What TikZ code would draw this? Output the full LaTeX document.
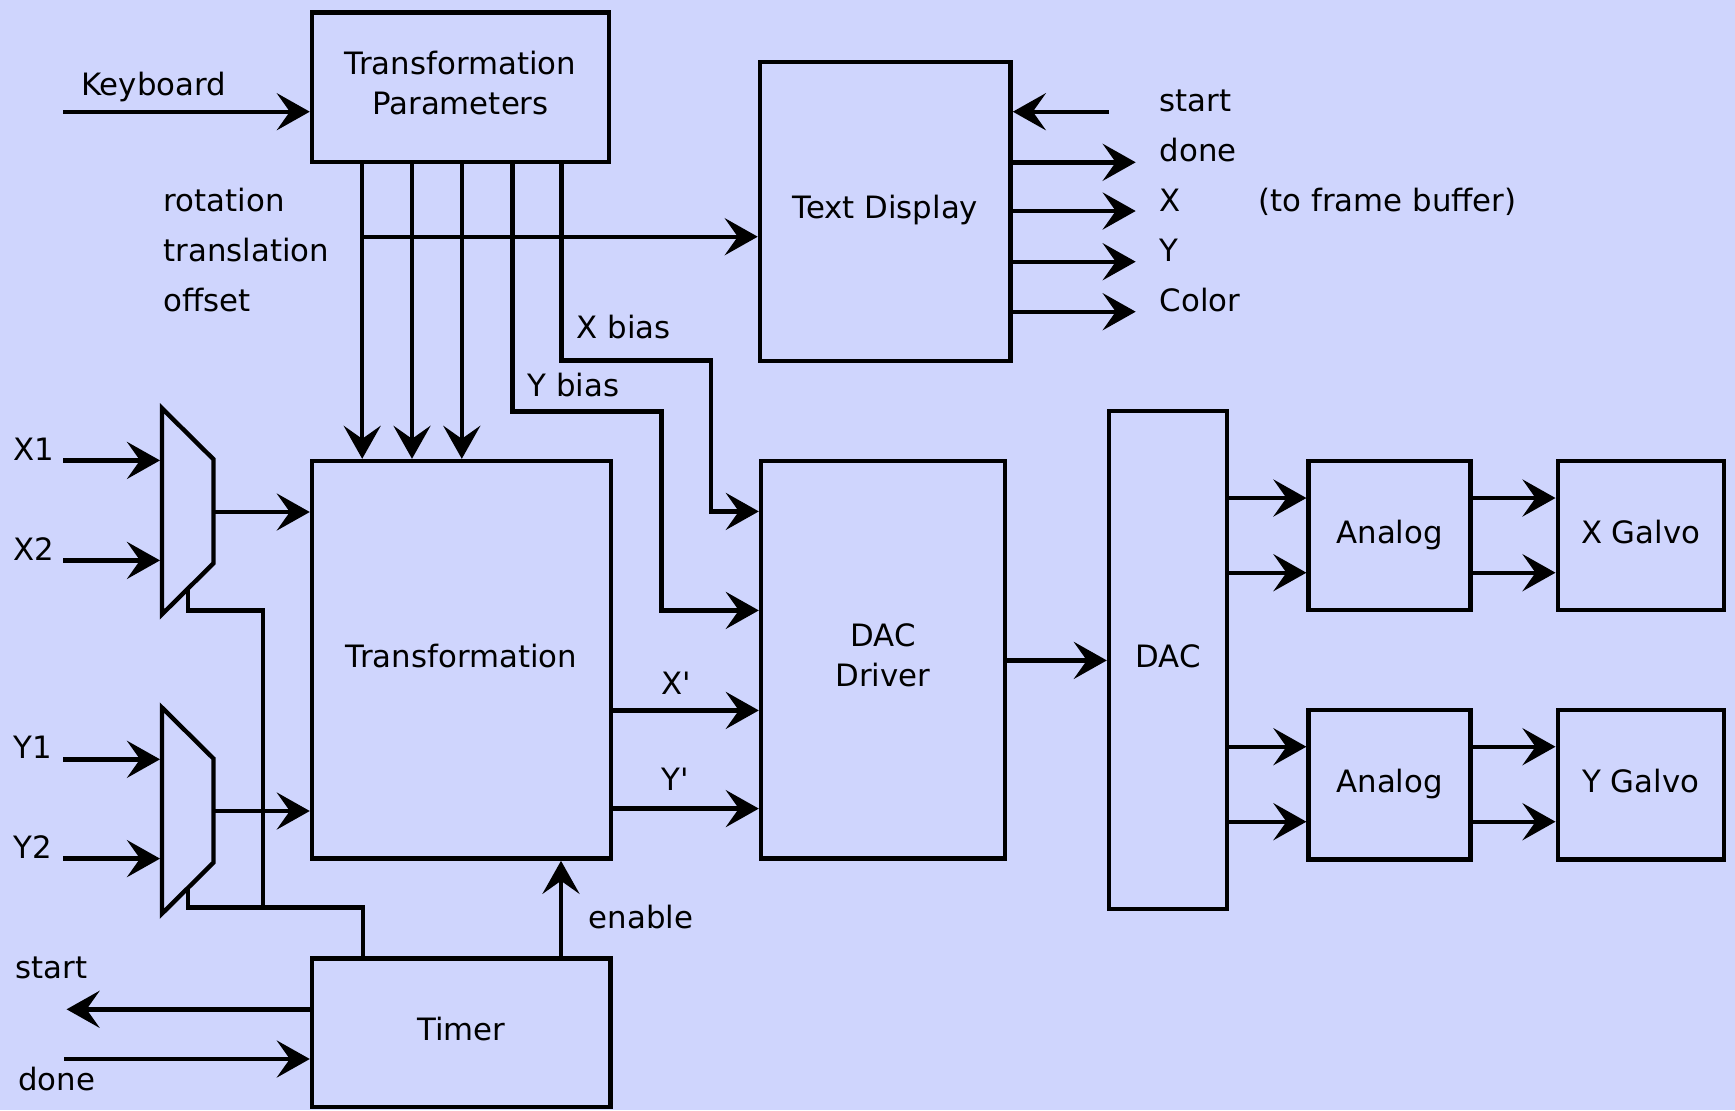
\documentclass[tikz,border=0pt]{standalone}
\usepackage{fontspec}
\setmainfont{DejaVu Sans}
\usetikzlibrary{arrows.meta,calc}
\definecolor{bg}{RGB}{207,213,253}
\begin{document}
\begin{tikzpicture}[x=0.5pt,y=-0.5pt,
  line width=2.2pt,
  font=\fontsize{15.4}{20}\selectfont,
  arr/.style={-{Stealth[length=16.5pt,width=18.5pt,inset=6.5pt]}},
  box/.style={draw, line width=2.2pt, inner sep=0pt, align=center},
  one/.style={text height=11pt, text depth=3.5pt},
  two/.style={label={[align=center, inner sep=0pt, yshift=2.1pt]center:{#1}}},
  lbl/.style={anchor=base west, inner sep=0pt}
]
\fill[bg] (0,0) rectangle (1735,1110);
\useasboundingbox (0,0) rectangle (1735,1110);

% ---------- blocks ----------
\node[box, two={Transformation\\Parameters}, minimum width=148.5pt, minimum height=74.75pt] (tp) at (460.5,87.25) {};
\node[box, one, minimum width=125.35pt, minimum height=149.5pt] (td) at (885.3,211.2) {Text Display};
\node[box, one, minimum width=149.5pt, minimum height=198.8pt] (tr) at (461.5,659.8) {Transformation};
\node[box, two={DAC\\Driver}, minimum width=122pt, minimum height=198.8pt] (dd) at (883,659.8) {};
\node[box, one, minimum width=59pt, minimum height=249pt] (dac) at (1168,660) {DAC};
\node[box, one, minimum width=81pt, minimum height=74.5pt] (an1) at (1389.6,535.5) {Analog};
\node[box, one, minimum width=83pt, minimum height=74.5pt] (xg) at (1640.7,535.5) {X Galvo};
\node[box, one, minimum width=81pt, minimum height=74.65pt] (an2) at (1389.6,784.7) {Analog};
\node[box, one, minimum width=83pt, minimum height=74.65pt] (yg) at (1640.7,784.7) {Y Galvo};
\node[box, one, minimum width=149.3pt, minimum height=74.35pt] (tm) at (461.3,1032.7) {Timer};

% ---------- multiplexers ----------
\path (162,408.3) coordinate (mAtl) (213.5,459.3) coordinate (mAtr)
      (213.5,563.3) coordinate (mAbr) (162,614.3) coordinate (mAbl);
\path (162,707.6) coordinate (mBtl) (213.5,758.6) coordinate (mBtr)
      (213.5,862.6) coordinate (mBbr) (162,913.6) coordinate (mBbl);
\draw (mAtl) -- (mAtr) -- (mAbr) -- (mAbl) -- cycle;
\draw (mBtl) -- (mBtr) -- (mBbr) -- (mBbl) -- cycle;

% mux inputs
\path (63.3,460.4) coordinate (x1s) (160,460.4) coordinate (x1e)
      (63.3,560.4) coordinate (x2s) (160,560.4) coordinate (x2e)
      (63.3,759.3) coordinate (y1s) (160,759.3) coordinate (y1e)
      (63.3,858.6) coordinate (y2s) (160,858.6) coordinate (y2e);
\draw[arr] (x1s) -- (x1e);
\draw[arr] (x2s) -- (x2e);
\draw[arr] (y1s) -- (y1e);
\draw[arr] (y2s) -- (y2e);

% mux outputs
\path (213.5,512) coordinate (mAo) (213.5,811) coordinate (mBo);
\draw[arr] (mAo) -- (mAo -| tr.west);
\draw[arr] (mBo) -- (mBo -| tr.west);

% select lines
\coordinate (sA) at ($(mAbr)!0.5!(mAbl)$);
\coordinate (sB) at ($(mBbr)!0.5!(mBbl)$);
\path (0,610.4) coordinate (selA) (263,610.4) coordinate (selC)
      (263,907.5) coordinate (selD) (363,907.5) coordinate (selE)
      (0,907.5) coordinate (selB);
\draw (sA) -- (sA |- selA) -- (selC) -- (selD) -- (selE) -- (selE |- tm.north);
\draw (sB) -- (sB |- selB) -- (selD);

% ---------- keyboard ----------
\coordinate (kb) at (63.3,111.7);
\draw[arr] (kb) -- (kb -| tp.west);

% ---------- parameter taps ----------
\foreach \n/\x in {1/362.2,2/412,3/461.8,4/512.5,5/561.5}
  \coordinate (t\n) at (\x,0);
\foreach \n in {1,2,3}
  \draw[arr] (t\n |- tp.south) -- (t\n |- tr.north);
\coordinate (bus) at (0,236.7);
\draw[arr] (t1 |- bus) -- (bus -| td.west);

% Y bias
\path (512.5,411.4) coordinate (yb1) (661.4,411.4) coordinate (yb2) (661.4,610.4) coordinate (yb3);
\draw[arr] (t4 |- tp.south) -- (yb1) -- (yb2) -- (yb3) -- (yb3 -| dd.west);
% X bias
\path (561.5,360.5) coordinate (xb1) (711,360.5) coordinate (xb2) (711,511.4) coordinate (xb3);
\draw[arr] (t5 |- tp.south) -- (xb1) -- (xb2) -- (xb3) -- (xb3 -| dd.west);

% X', Y'
\path (0,710.4) coordinate (yXp) (0,808.6) coordinate (yYp);
\draw[arr] (yXp -| tr.east) -- (yXp -| dd.west);
\draw[arr] (yYp -| tr.east) -- (yYp -| dd.west);

% DAC driver -> DAC
\coordinate (ydd) at (0,660.4);
\draw[arr] (ydd -| dd.east) -- (ydd -| dac.west);

% ---------- text display ----------
\coordinate (tdS) at (1109,111.7);
\draw[arr] (tdS) -- (tdS -| td.east);
\foreach \n/\y in {1/162.3,2/211,3/261.7,4/311.7}{
  \coordinate (to\n) at (1135.7,\y);
  \draw[arr] (to\n -| td.east) -- (to\n);
}

% ---------- DAC -> analog -> galvo ----------
\foreach \n/\y in {1/498,2/572.7}{
  \coordinate (ax\n) at (0,\y);
  \draw[arr] (ax\n -| dac.east) -- (ax\n -| an1.west);
  \draw[arr] (ax\n -| an1.east) -- (ax\n -| xg.west);
}
\foreach \n/\y in {1/746.7,2/821.7}{
  \coordinate (ay\n) at (0,\y);
  \draw[arr] (ay\n -| dac.east) -- (ay\n -| an2.west);
  \draw[arr] (ay\n -| an2.east) -- (ay\n -| yg.west);
}

% ---------- timer ----------
\coordinate (en) at (561,0);
\draw[arr] (en |- tm.north) -- (en |- tr.south);
\coordinate (tS) at (66.6,1009.3);
\draw[arr] (tS -| tm.west) -- (tS);
\coordinate (tD) at (64.3,1059);
\draw[arr] (tD) -- (tD -| tm.west);

% ---------- labels ----------
\node[lbl] (lKb) at (79,95) {Keyboard};
\node[lbl] (lRot) at (161.5,211.7) {rotation};
\node[lbl] (lTra) at (161.5,261.7) {translation};
\node[lbl] (lOff) at (161.5,311.7) {offset};
\node[lbl] (lXb) at (574.5,338.3) {X bias};
\node[lbl] (lYb) at (525.5,396.7) {Y bias};
\node[lbl] (lSt) at (1157.5,111.7) {start};
\node[lbl] (lDn) at (1157.5,161.7) {done};
\node[lbl] (lX) at (1157.5,211.7) {X};
\node[lbl] (lY) at (1157.5,261.7) {Y};
\node[lbl] (lCol) at (1157.5,311.7) {Color};
\node[lbl] (lFb) at (1256.5,211.7) {(to frame buffer)};
\node[lbl] (lX1) at (11.3,460.4) {X1};
\node[lbl] (lX2) at (11.3,560.4) {X2};
\node[lbl] (lY1) at (11.3,758.6) {Y1};
\node[lbl] (lY2) at (11.3,858.6) {Y2};
\node[lbl] (lXp) at (659,694) {X\textquotesingle};
\node[lbl] (lYp) at (659,790.7) {Y\textquotesingle};
\node[lbl] (lEn) at (586.5,928.3) {enable};
\node[lbl] (lTs) at (13.5,978.3) {start};
\node[lbl] (lTd) at (16,1090) {done};
\end{tikzpicture}
\end{document}
